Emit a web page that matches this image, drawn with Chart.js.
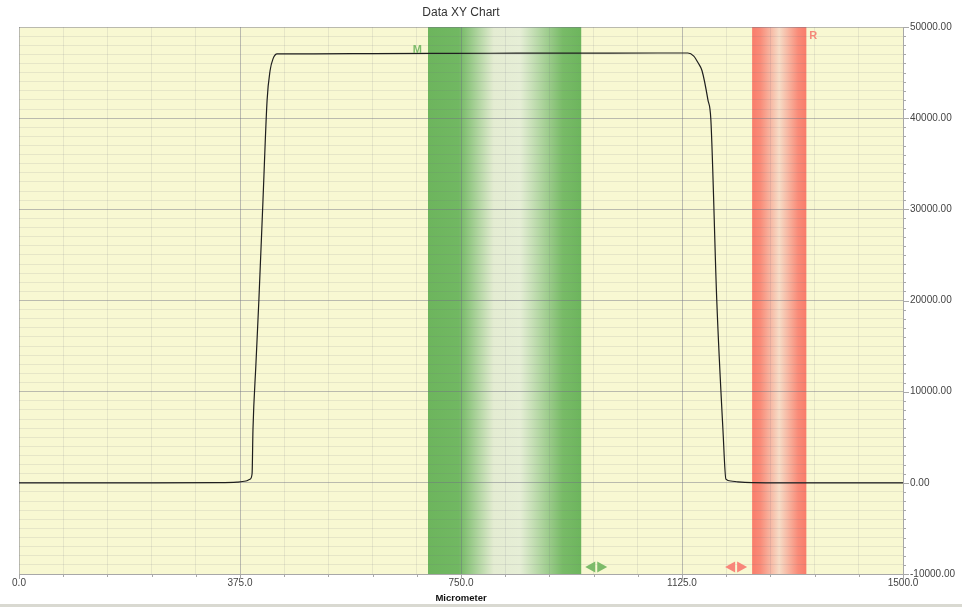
<!DOCTYPE html>
<html>
<head>
<meta charset="utf-8">
<title>Data XY Chart</title>
<script src="https://cdn.jsdelivr.net/npm/chart.js@4.4.1/dist/chart.umd.min.js"></script>
<style>
  html, body { margin: 0; padding: 0; background: #ffffff; }
  #wrap { position: relative; width: 962px; height: 607px; }
</style>
</head>
<body>
<div id="wrap"><canvas id="chart" width="962" height="607"></canvas></div>
<script>
// Profile: position in micrometer and measured value
const profileX = [0, 200, 340, 370, 385, 392, 395.5, 397, 402, 407, 414, 421, 426, 431, 438,
  500, 600, 700, 800, 900, 1000, 1100, 1135, 1145, 1152, 1159, 1169, 1174, 1184,
  1194.5, 1199.5, 1208, 1220, 1244, 1300, 1500];
const profileY = [0, 0, 20, 80, 200, 400, 1000, 5800, 13000, 20000, 31000, 42000, 45200, 46500, 47050,
  47060, 47080, 47100, 47120, 47130, 47140, 47150, 47150, 46800, 46100, 45200, 42000, 39800, 20000,
  5800, 400, 200, 100, 20, 0, 0];

// Axis ranges and tick spacing
const xRange = [0, 1500];
const xTickStep = 75;
const xLabelStep = 375;
const yRange = [-10000, 50000];
const yTickStep = 1000;
const yLabelStep = 10000;

// Cursor bands (micrometer) and their labels
const bandM = [694, 954];
const bandR = [1244, 1336];
const bandLabels = ['M', 'R'];

const chartTitle = 'Data XY Chart';
const xAxisTitle = 'Micrometer';

const FONT = '"Liberation Sans", Arial, sans-serif';
const PLOT_BG = '#f8f8d2';
const GREEN = '#6db55d';
const GREEN_PALE = '#e4ecd2';
const GREEN_TEXT = '#7dbb6a';
const RED = '#f97d6b';
const RED_PALE = '#f6dcc6';
const RED_TEXT = '#f58a7a';

function drawArrowPair(ctx, x0, y, color) {
  // two small triangles: one pointing left, one pointing right
  ctx.fillStyle = color;
  ctx.beginPath();
  ctx.moveTo(x0, y);
  ctx.lineTo(x0 + 10, y - 5.5);
  ctx.lineTo(x0 + 10, y + 5.5);
  ctx.closePath();
  ctx.fill();
  ctx.beginPath();
  ctx.moveTo(x0 + 22, y);
  ctx.lineTo(x0 + 12, y - 5.5);
  ctx.lineTo(x0 + 12, y + 5.5);
  ctx.closePath();
  ctx.fill();
}

const decorPlugin = {
  id: 'decor',
  beforeDraw(chart) {
    const { ctx, chartArea: a, scales: { x } } = chart;
    ctx.save();
    ctx.fillStyle = PLOT_BG;
    ctx.fillRect(a.left, a.top, a.right - a.left, a.bottom - a.top);

    // M band: green edges fading to a pale centre
    let l = x.getPixelForValue(bandM[0]);
    let r = x.getPixelForValue(bandM[1]);
    let g = ctx.createLinearGradient(l, 0, r, 0);
    g.addColorStop(0, GREEN);
    g.addColorStop(0.2, '#71b862');
    g.addColorStop(0.43, GREEN_PALE);
    g.addColorStop(0.6, '#e6eed6');
    g.addColorStop(0.88, '#78bb67');
    g.addColorStop(1, GREEN);
    ctx.fillStyle = g;
    ctx.fillRect(l, a.top, r - l, a.bottom - a.top);

    // R band: red edges fading to a pale centre
    l = x.getPixelForValue(bandR[0]);
    r = x.getPixelForValue(bandR[1]);
    g = ctx.createLinearGradient(l, 0, r, 0);
    g.addColorStop(0, RED);
    g.addColorStop(0.15, '#f98b78');
    g.addColorStop(0.5, RED_PALE);
    g.addColorStop(0.85, '#f98b78');
    g.addColorStop(1, RED);
    ctx.fillStyle = g;
    ctx.fillRect(l, a.top, r - l, a.bottom - a.top);
    ctx.restore();
  },
  afterDraw(chart) {
    const { ctx, chartArea: a, scales: { x, y } } = chart;
    ctx.save();

    // tick marks on the right and bottom axes
    ctx.strokeStyle = '#a8a8a8';
    ctx.lineWidth = 1;
    ctx.beginPath();
    for (let v = yRange[0]; v <= yRange[1]; v += yTickStep) {
      const py = Math.round(y.getPixelForValue(v)) + 0.5;
      const len = v % yLabelStep === 0 ? 6 : 3;
      ctx.moveTo(a.right, py);
      ctx.lineTo(a.right + len, py);
    }
    for (let v = xRange[0]; v <= xRange[1]; v += xTickStep) {
      const px = Math.round(x.getPixelForValue(v)) + 0.5;
      const len = v % xLabelStep === 0 ? 5 : 3;
      ctx.moveTo(px, a.bottom);
      ctx.lineTo(px, a.bottom + len);
    }
    ctx.stroke();

    // band labels
    ctx.font = 'bold 11px ' + FONT;
    ctx.textBaseline = 'middle';
    ctx.fillStyle = GREEN_TEXT;
    ctx.textAlign = 'right';
    ctx.fillText(bandLabels[0], x.getPixelForValue(bandM[0]) - 6, 50);
    ctx.fillStyle = RED_TEXT;
    ctx.textAlign = 'left';
    ctx.fillText(bandLabels[1], x.getPixelForValue(bandR[1]) + 3, 36);

    // band drag handles
    drawArrowPair(ctx, x.getPixelForValue(bandM[1]) + 4, 567, GREEN_TEXT);
    drawArrowPair(ctx, x.getPixelForValue(bandR[0]) - 27, 567, '#f8867a');

    // titles
    ctx.textAlign = 'center';
    ctx.fillStyle = '#333333';
    ctx.font = '12px ' + FONT;
    ctx.fillText(chartTitle, (a.left + a.right) / 2, 13);
    ctx.fillStyle = '#111111';
    ctx.font = 'bold 9.5px ' + FONT;
    ctx.fillText(xAxisTitle, (a.left + a.right) / 2, 598);

    // footer strip
    ctx.fillStyle = '#d9d9d1';
    ctx.fillRect(0, 604, chart.width, 3);
    ctx.restore();
  }
};

const MAJOR_GRID = 'rgba(110,110,130,0.45)';
const MINOR_GRID = 'rgba(110,110,130,0.13)';

new Chart(document.getElementById('chart'), {
  type: 'scatter',
  data: {
    datasets: [{
      data: profileX.map((v, i) => ({ x: v, y: profileY[i] })),
      showLine: true,
      borderColor: '#1e1e1e',
      borderWidth: 1.2,
      pointRadius: 0,
      cubicInterpolationMode: 'monotone'
    }]
  },
  options: {
    responsive: false,
    animation: false,
    events: [],
    layout: { padding: { left: 19, top: 27, right: 0, bottom: 0 } },
    plugins: { legend: { display: false }, title: { display: false }, tooltip: { enabled: false } },
    scales: {
      x: {
        type: 'linear',
        min: xRange[0],
        max: xRange[1],
        afterFit(scale) { scale.height = 33; },
        afterBuildTicks(scale) {
          const t = [];
          for (let v = xRange[0]; v <= xRange[1]; v += xTickStep) t.push({ value: v });
          scale.ticks = t;
        },
        ticks: {
          autoSkip: false,
          maxRotation: 0,
          padding: 3,
          color: '#444444',
          font: { family: FONT, size: 10 },
          callback: (v) => (v % xLabelStep === 0 ? v.toFixed(1) : '')
        },
        grid: {
          drawTicks: false,
          color: (c) => (c.tick && c.tick.value % xLabelStep === 0 ? MAJOR_GRID : MINOR_GRID)
        },
        border: { color: '#a8a8a8' }
      },
      y: {
        type: 'linear',
        position: 'right',
        min: yRange[0],
        max: yRange[1],
        afterFit(scale) { scale.width = 59; },
        afterBuildTicks(scale) {
          const t = [];
          for (let v = yRange[0]; v <= yRange[1]; v += yTickStep) t.push({ value: v });
          scale.ticks = t;
        },
        ticks: {
          autoSkip: false,
          padding: 7,
          color: '#444444',
          font: { family: FONT, size: 10 },
          callback: (v) => (v % yLabelStep === 0 ? v.toFixed(2) : '')
        },
        grid: {
          drawTicks: false,
          color: (c) => (c.tick && c.tick.value % yLabelStep === 0 ? MAJOR_GRID : MINOR_GRID)
        },
        border: { color: '#a8a8a8' }
      }
    }
  },
  plugins: [decorPlugin]
});
</script>
</body>
</html>
